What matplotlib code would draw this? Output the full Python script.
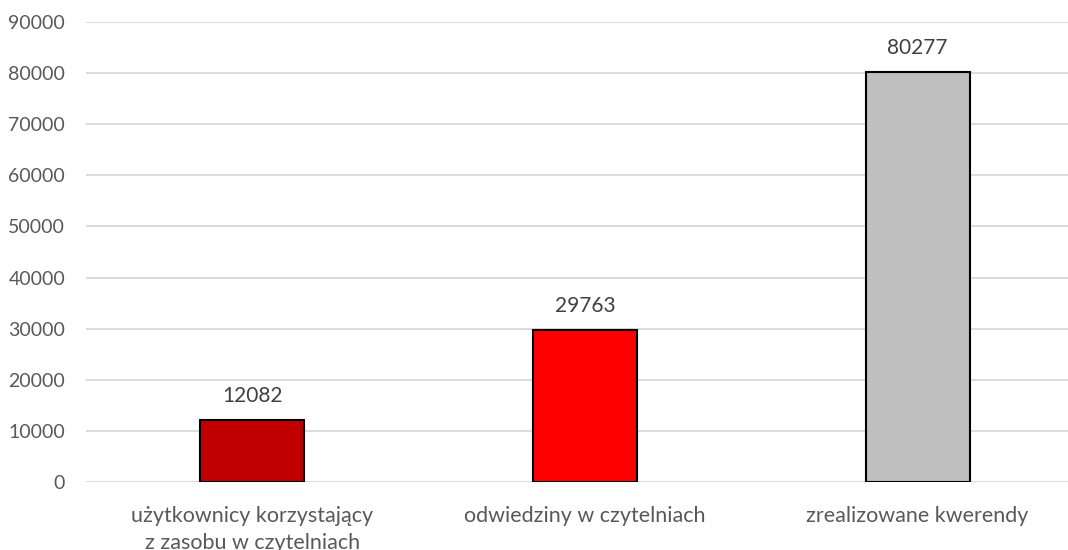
import matplotlib
matplotlib.use("Agg")
import matplotlib.pyplot as plt

categories = ["użytkownicy korzystający\nz zasobu w czytelniach",
              "odwiedziny w czytelniach",
              "zrealizowane kwerendy"]
values = [12082, 29763, 80277]
colors = ["#C00000", "#FF0000", "#BFBFBF"]
yticks = list(range(0, 90001, 10000))

plt.rcParams['font.family'] = ['Lato', 'DejaVu Sans']
text_color = "#595959"

fig = plt.figure(figsize=(10.68, 5.5), dpi=100)
ax = fig.add_axes([86/1068, 1-482/550, 998/1068, 460/550])

x = list(range(len(categories)))
bars = ax.bar(x, values, width=0.313, color=colors, edgecolor="black", linewidth=1.5, zorder=3)
for xi, v in zip(x, values):
    ax.annotate(str(v), (xi, v), xytext=(0, 10), textcoords="offset points",
                ha="center", va="bottom", fontsize=15, color="#404040")

ax.set_xlim(-0.5, 2.5)
ax.set_ylim(0, 90000)
ax.set_yticks(yticks)
ax.set_yticklabels([str(t) for t in yticks])
ax.set_xticks(x)
ax.set_xticklabels(categories, linespacing=1.45)
ax.tick_params(axis="y", length=0, pad=15, labelsize=14, labelcolor=text_color)
ax.tick_params(axis="x", length=0, pad=17, labelsize=15.5, labelcolor=text_color)
ax.grid(axis="y", color="#D9D9D9", linewidth=1.3, zorder=0)
for s in ax.spines.values():
    s.set_visible(False)

fig.savefig("out.png", dpi=100)
